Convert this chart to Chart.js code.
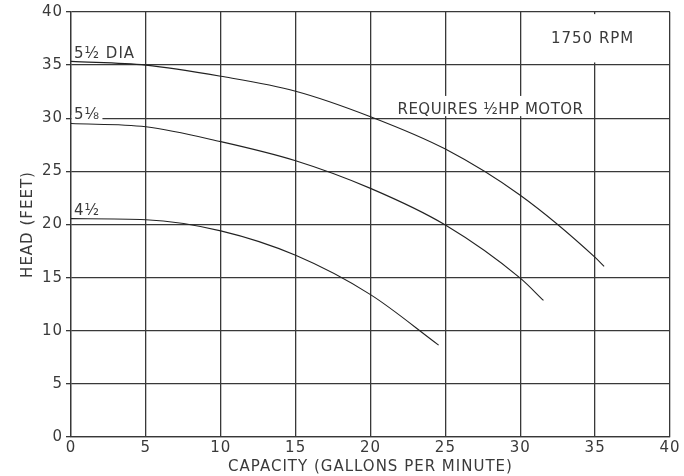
<!DOCTYPE html>
<html>
<head>
<meta charset="utf-8">
<script src="https://cdn.jsdelivr.net/npm/chart.js@4"></script>
<style>
  html, body { margin: 0; padding: 0; background: #fff; }
  #wrap { width: 684px; height: 476px; }
</style>
</head>
<body>
<div id="wrap"><canvas id="pumpChart" width="684" height="476"></canvas></div>
<script>
// pump curves (capacity gpm / head ft)
const capacity55 = [0, 5, 10, 15, 20, 25, 30, 35, 35.6];
const head55 = [35.35, 35.0, 33.95, 32.55, 30.15, 27.1, 22.75, 16.9, 16.05];
const capacity518 = [0, 5, 10, 15, 20, 25, 30, 31.55];
const head518 = [29.5, 29.2, 27.8, 26.0, 23.4, 19.95, 14.95, 12.85];
const capacity45 = [0, 5, 10, 15, 20, 24.55];
const head45 = [20.55, 20.45, 19.4, 17.1, 13.4, 8.65];
const xTicks = [0, 5, 10, 15, 20, 25, 30, 35, 40];
const yTicks = [0, 5, 10, 15, 20, 25, 30, 35, 40];

const FONT = "'DejaVu Sans', sans-serif";
const INK = "#3a3a3a";
const GRID = "#383838";

// text on the sheet, placed in data units
const notes = [
  { text: "5½ DIA", x: 0.2, y: 35.7, spacing: "1px" },
  { text: "5⅛", x: 0.2, y: 29.9, spacing: "1px" },
  { text: "4½", x: 0.2, y: 20.85, spacing: "1px" },
  { text: "1750 RPM", x: 32.05, y: 37.05, spacing: "1px" },
  { text: "REQUIRES ½HP MOTOR", x: 21.8, y: 30.4, spacing: "0.5px" }
];
// grid is left blank behind some of the text
const blanks = [
  { x0: 31.8, x1: 38.3, y0: 35.25, y1: 39.8 },
  { x0: 21.5, x1: 33.5, y0: 30.2, y1: 32.1 },
  { x0: 0.05, x1: 2.1, y0: 29.7, y1: 30.3 }
];

const toPoints = (xs, ys) => xs.map((x, i) => ({ x: x, y: ys[i] }));

const sheetText = {
  id: "sheetText",
  beforeDraw(chart) {
    // drafting lettering is spaced out a little
    chart.ctx.letterSpacing = "1px";
  },
  beforeDatasetsDraw(chart) {
    const { ctx, scales: { x, y } } = chart;
    ctx.save();
    ctx.fillStyle = "#fff";
    blanks.forEach(b => {
      const left = x.getPixelForValue(b.x0), right = x.getPixelForValue(b.x1);
      const top = y.getPixelForValue(b.y1), bottom = y.getPixelForValue(b.y0);
      ctx.fillRect(left, top, right - left, bottom - top);
    });
    ctx.restore();
  },
  afterDatasetsDraw(chart) {
    const { ctx, scales: { x, y } } = chart;
    ctx.save();
    ctx.font = "15px " + FONT;
    ctx.fillStyle = INK;
    ctx.textAlign = "left";
    ctx.textBaseline = "alphabetic";
    notes.forEach(n => {
      ctx.letterSpacing = n.spacing;
      ctx.fillText(n.text, x.getPixelForValue(n.x), y.getPixelForValue(n.y));
    });
    ctx.restore();
  }
};

document.addEventListener("DOMContentLoaded", () => {
  const curve = (label, xs, ys) => ({
    label: label,
    data: toPoints(xs, ys),
    borderColor: "#222",
    borderWidth: 1.1,
    pointRadius: 0,
    fill: false,
    cubicInterpolationMode: "monotone"
  });

  const ctx = document.getElementById("pumpChart").getContext("2d");
  new Chart(ctx, {
    type: "line",
    data: {
      datasets: [
        curve("5½ DIA", capacity55, head55),
        curve("5⅛", capacity518, head518),
        curve("4½", capacity45, head45)
      ]
    },
    options: {
      responsive: false,
      animation: false,
      layout: { padding: { top: 9, right: 14, left: 0, bottom: 0 } },
      plugins: {
        legend: { display: false },
        tooltip: { enabled: false }
      },
      scales: {
        x: {
          type: "linear",
          min: 0,
          max: 40,
          afterBuildTicks: s => { s.ticks = xTicks.map(v => ({ value: v })); },
          afterFit: s => { s.height = 39; },
          grid: { color: GRID, lineWidth: 1.3, drawTicks: false },
          border: { color: GRID, width: 1.3 },
          ticks: { padding: 2, color: INK, font: { family: FONT, size: 15 }, maxRotation: 0 },
          title: {
            display: true,
            text: "CAPACITY (GALLONS PER MINUTE)",
            color: INK,
            font: { family: FONT, size: 15 },
            padding: 0
          }
        },
        y: {
          type: "linear",
          min: 0,
          max: 40,
          afterBuildTicks: s => { s.ticks = yTicks.map(v => ({ value: v })); },
          afterFit: s => { s.width = 71; },
          grid: { color: GRID, lineWidth: 1.3, tickLength: 5 },
          border: { color: GRID, width: 1.3 },
          ticks: { padding: 3, color: INK, font: { family: FONT, size: 15 } },
          title: {
            display: true,
            text: "HEAD (FEET)",
            color: INK,
            font: { family: FONT, size: 15 },
            padding: { top: 19, bottom: 0 }
          }
        }
      }
    },
    plugins: [sheetText]
  });
});
</script>
</body>
</html>
